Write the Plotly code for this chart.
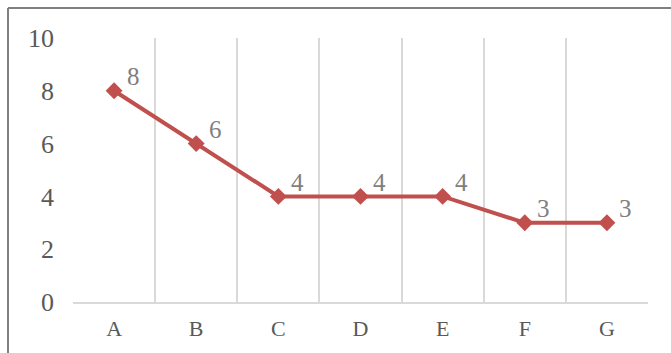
import plotly.graph_objects as go

# Category labels and the value plotted for each
categories = ["A", "B", "C", "D", "E", "F", "G"]
values = [8, 6, 4, 4, 4, 3, 3]
y_ticks = [0, 2, 4, 6, 8, 10]

LINE_RED = "#c0504d"
GRID = "#d9d9d9"
TICK_TEXT = "#595959"
LABEL_TEXT = "#7f7f7f"
SERIF = "Liberation Serif, DejaVu Serif, serif"

W, H = 671, 353
M_L, M_R, M_T, M_B = 73, 23, 38, 51
plot_w = W - M_L - M_R
plot_h = H - M_T - M_B


def px_to_paper_x(px):
    return (px - M_L) / plot_w


def px_to_paper_y(py):
    return (H - M_B - py) / plot_h


fig = go.Figure(
    go.Scatter(
        x=categories,
        y=values,
        mode="lines+markers",
        line=dict(color=LINE_RED, width=4),
        marker=dict(symbol="diamond", size=13, color=LINE_RED),
        cliponaxis=False,
        hoverinfo="skip",
    )
)

# Value labels sitting up and to the right of each point
for cat, val in zip(categories, values):
    fig.add_annotation(
        x=cat, y=val, text=str(val), showarrow=False,
        xshift=19, yshift=14,
        font=dict(family=SERIF, size=25, color=LABEL_TEXT),
    )

# Chart-area frame: top and left edges
frame = dict(color="#7f7f7f", width=2)
fig.add_shape(type="line", xref="paper", yref="paper",
              x0=px_to_paper_x(8), x1=px_to_paper_x(W + 2),
              y0=px_to_paper_y(8), y1=px_to_paper_y(8), line=frame)
fig.add_shape(type="line", xref="paper", yref="paper",
              x0=px_to_paper_x(8), x1=px_to_paper_x(8),
              y0=px_to_paper_y(8), y1=px_to_paper_y(H + 2), line=frame)

fig.update_layout(
    width=W,
    height=H,
    margin=dict(l=M_L, r=M_R, t=M_T, b=M_B, autoexpand=False),
    paper_bgcolor="white",
    plot_bgcolor="white",
    showlegend=False,
    font=dict(family=SERIF, color=TICK_TEXT),
    xaxis=dict(
        type="category",
        categoryorder="array",
        categoryarray=categories,
        range=[-0.5, len(categories) - 0.5],
        tickson="boundaries",
        showgrid=True,
        gridcolor=GRID,
        gridwidth=1.5,
        showline=True,
        linecolor=GRID,
        linewidth=2,
        ticks="",
        tickfont=dict(family=SERIF, size=22, color=TICK_TEXT),
        ticklabelstandoff=6,
        zeroline=False,
        automargin=False,
    ),
    yaxis=dict(
        range=[0, 10],
        tickvals=y_ticks,
        showgrid=False,
        zeroline=False,
        showline=False,
        ticks="",
        tickfont=dict(family=SERIF, size=26, color=TICK_TEXT),
        ticklabelstandoff=18,
        automargin=False,
    ),
)

fig.write_html("out.html")
